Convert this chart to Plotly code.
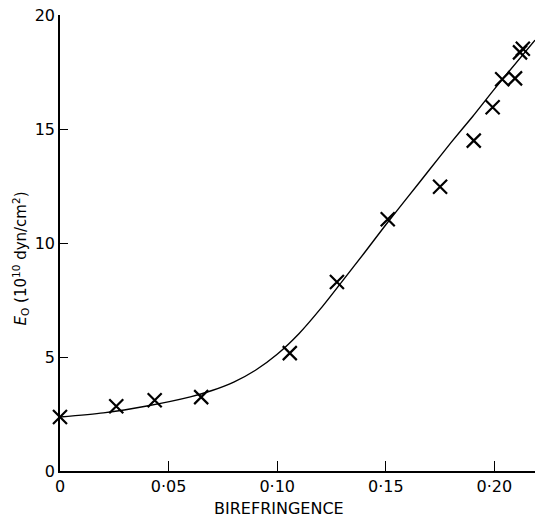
import plotly.graph_objects as go

# Measured points (birefringence, E0 in 1e10 dyn/cm^2)
biref = [0.0, 0.0259, 0.0436, 0.0650, 0.1058, 0.1275, 0.1509, 0.1750, 0.1905,
         0.1992, 0.2036, 0.2095, 0.2118, 0.2131]
e0 = [2.37, 2.84, 3.10, 3.24, 5.17, 8.29, 11.04, 12.47, 14.49,
      15.95, 17.18, 17.22, 18.36, 18.52]

# Fitted curve
curve_x = [0.0, 0.02, 0.04, 0.06, 0.07, 0.08, 0.09, 0.10, 0.11, 0.12, 0.13,
           0.14, 0.15, 0.16, 0.17, 0.18, 0.19, 0.20, 0.2187]
curve_y = [2.37, 2.55, 2.85, 3.25, 3.53, 3.9, 4.42, 5.12, 6.02, 7.12, 8.33,
           9.55, 10.8, 12.0, 13.2, 14.4, 15.55, 16.75, 18.9]

x_ticks = [0, 0.05, 0.10, 0.15, 0.20]
x_ticktext = ["0", "0·05", "0·10", "0·15", "0·20"]
y_ticks = [0, 5, 10, 15, 20]
y_ticktext = ["0", "5", "10", "15", "20"]

FONT = "DejaVu Sans"

fig = go.Figure()
fig.add_trace(go.Scatter(x=curve_x, y=curve_y, mode="lines",
                         line=dict(color="black", width=1.4, shape="spline", smoothing=0.7),
                         hoverinfo="skip", showlegend=False))
fig.add_trace(go.Scatter(x=biref, y=e0, mode="markers", cliponaxis=False,
                         marker=dict(symbol="x-thin-open", size=14, color="black",
                                     line=dict(color="black", width=2.2)),
                         showlegend=False))

fig.update_xaxes(range=[0, 0.2187], tickvals=x_ticks, ticktext=x_ticktext,
                 ticks="inside", ticklen=10, tickwidth=1.4, tickcolor="black",
                 showline=True, linecolor="black", linewidth=1.6,
                 showgrid=False, zeroline=False,
                 tickfont=dict(family=FONT, size=16, color="black"))
fig.update_yaxes(range=[0, 20], tickvals=y_ticks, ticktext=y_ticktext,
                 ticks="inside", ticklen=8, tickwidth=1.4, tickcolor="black",
                 showline=True, linecolor="black", linewidth=1.6,
                 showgrid=False, zeroline=False,
                 tickfont=dict(family=FONT, size=16, color="black"))

fig.add_annotation(text="BIREFRINGENCE", xref="x", yref="paper", x=0.101, y=0,
                   yshift=-37, yanchor="middle", showarrow=False,
                   font=dict(family=FONT, size=16, color="black"))
fig.add_annotation(text="<i>E</i><sub>O</sub> (10<sup>10</sup> dyn/cm<sup>2</sup>)",
                   xref="paper", yref="y", x=0, y=9.3, xshift=-52,
                   textangle=-90, showarrow=False,
                   font=dict(family=FONT, size=15, color="black"))

fig.update_layout(width=535, height=519, margin=dict(l=60, r=0, t=15, b=48),
                  paper_bgcolor="white", plot_bgcolor="white")

fig.write_html("out.html")
